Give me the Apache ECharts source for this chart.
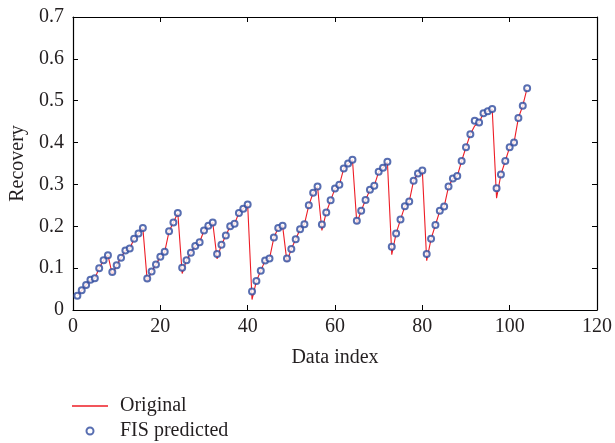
<!DOCTYPE html>
<html>
<head>
<meta charset="utf-8">
<script src="https://cdn.jsdelivr.net/npm/echarts@6/dist/echarts.min.js"></script>
<style>html,body{margin:0;padding:0;background:#fff}#c{width:615px;height:443px}</style>
</head>
<body>
<div id="c"></div>
<script>
// Data index 1..104
var predicted = [
  0.034, 0.047, 0.060, 0.072, 0.076, 0.100, 0.119, 0.131, 0.091, 0.107,
  0.125, 0.142, 0.147, 0.170, 0.183, 0.196, 0.075, 0.092, 0.109, 0.127,
  0.139, 0.188, 0.209, 0.232, 0.101, 0.119, 0.137, 0.153, 0.162, 0.190,
  0.201, 0.209, 0.134, 0.156, 0.178, 0.200, 0.206, 0.232, 0.242, 0.252,
  0.044, 0.069, 0.094, 0.118, 0.123, 0.173, 0.196, 0.201, 0.123, 0.146,
  0.169, 0.193, 0.205, 0.250, 0.280, 0.295, 0.204, 0.233, 0.262, 0.290,
  0.299, 0.338, 0.350, 0.359, 0.213, 0.237, 0.263, 0.287, 0.297, 0.330,
  0.340, 0.354, 0.151, 0.183, 0.216, 0.248, 0.259, 0.309, 0.326, 0.333,
  0.134, 0.170, 0.203, 0.237, 0.247, 0.295, 0.314, 0.320, 0.356, 0.389,
  0.420, 0.452, 0.448, 0.470, 0.475, 0.480, 0.291, 0.324, 0.356, 0.389,
  0.400, 0.459, 0.488, 0.530
];
var original = [
  0.034, 0.047, 0.060, 0.072, 0.076, 0.100, 0.119, 0.131, 0.085, 0.107,
  0.125, 0.142, 0.147, 0.170, 0.183, 0.196, 0.069, 0.092, 0.109, 0.127,
  0.139, 0.188, 0.209, 0.232, 0.087, 0.119, 0.137, 0.153, 0.162, 0.190,
  0.201, 0.209, 0.122, 0.156, 0.178, 0.200, 0.206, 0.232, 0.242, 0.252,
  0.025, 0.069, 0.094, 0.118, 0.123, 0.173, 0.196, 0.201, 0.115, 0.146,
  0.169, 0.193, 0.205, 0.250, 0.280, 0.295, 0.190, 0.233, 0.262, 0.290,
  0.299, 0.338, 0.350, 0.359, 0.207, 0.237, 0.263, 0.287, 0.297, 0.330,
  0.340, 0.354, 0.132, 0.183, 0.216, 0.248, 0.259, 0.309, 0.326, 0.333,
  0.118, 0.170, 0.203, 0.237, 0.247, 0.295, 0.314, 0.320, 0.356, 0.389,
  0.420, 0.440, 0.448, 0.470, 0.475, 0.480, 0.267, 0.324, 0.356, 0.389,
  0.400, 0.459, 0.488, 0.530
];
var xTicks = [0, 20, 40, 60, 80, 100, 120];
var yTicks = [0, 0.1, 0.2, 0.3, 0.4, 0.5, 0.6, 0.7];

var origData = original.map(function (v, i) { return [i + 1, v]; });
var predData = predicted.map(function (v, i) { return [i + 1, v]; });

var FONT = 'Liberation Serif';
var FS = 20;
var TXT = '#231f20';
var RED = '#ee1c25';
var BLUE = '#2e4a9e';
var chart = echarts.init(document.getElementById('c'));
var axisCommon = {
  axisLine: { show: true, onZero: false, lineStyle: { color: '#000', width: 1.2 } },
  axisTick: { show: true, inside: true, length: 5, lineStyle: { color: '#000', width: 1 } },
  splitLine: { show: false }
};
chart.setOption({
  animation: false,
  backgroundColor: '#fff',
  textStyle: { fontFamily: FONT, color: TXT },
  grid: { left: 72, right: 14, top: 17, bottom: 133, containLabel: false },
  legend: {
    orient: 'vertical',
    left: 72,
    top: 396,
    padding: 0,
    itemWidth: 36,
    itemHeight: 7,
    itemGap: 5,
    textStyle: { fontFamily: FONT, fontSize: FS, color: TXT, padding: [0, 0, 0, 7] },
    data: [
      { name: 'Original', icon: 'path://M0,0 L36,0 L36,1.6 L0,1.6 Z', itemStyle: { color: RED } },
      { name: 'FIS predicted' }
    ]
  },
  xAxis: [
    Object.assign({
      type: 'value', min: xTicks[0], max: xTicks[xTicks.length - 1], interval: 20,
      position: 'bottom',
      name: 'Data index', nameLocation: 'middle', nameGap: 38,
      nameTextStyle: { fontFamily: FONT, fontSize: FS, color: TXT },
      axisLabel: { fontFamily: FONT, fontSize: FS, color: TXT, margin: 7 }
    }, axisCommon),
    Object.assign({
      type: 'value', min: 0, max: 120, interval: 20, position: 'top',
      axisLabel: { show: false }
    }, axisCommon)
  ],
  yAxis: [
    Object.assign({
      type: 'value', min: yTicks[0], max: yTicks[yTicks.length - 1], interval: 0.1,
      position: 'left',
      name: 'Recovery', nameLocation: 'middle', nameGap: 45, nameRotate: 90,
      nameTextStyle: { fontFamily: FONT, fontSize: FS, color: TXT },
      axisLabel: {
        fontFamily: FONT, fontSize: FS, color: TXT, margin: 9,
        formatter: function (v) { return v === 0 ? '0' : v.toFixed(1); }
      }
    }, axisCommon),
    Object.assign({
      type: 'value', min: 0, max: 0.7, interval: 0.1, position: 'right',
      axisLabel: { show: false }
    }, axisCommon)
  ],
  series: [
    {
      name: 'Original', type: 'line', data: origData,
      symbol: 'none', showSymbol: false,
      lineStyle: { color: RED, width: 1.1 },
      itemStyle: { color: RED },
      z: 2
    },
    {
      name: 'FIS predicted', type: 'scatter', data: predData,
      symbol: 'emptyCircle', symbolSize: 6,
      itemStyle: { color: BLUE, borderColor: BLUE, borderWidth: 1.3 },
      z: 3
    }
  ]
});
</script>
</body>
</html>
